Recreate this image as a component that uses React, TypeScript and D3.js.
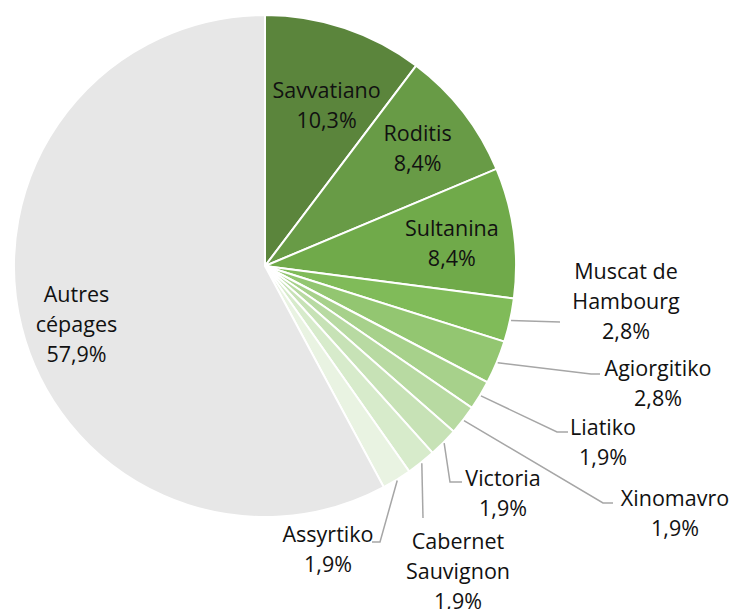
import React from "react"
import { arc, pie, PieArcDatum } from "d3"

const cepages = [
  "Savvatiano",
  "Roditis",
  "Sultanina",
  "Muscat de Hambourg",
  "Agiorgitiko",
  "Liatiko",
  "Xinomavro",
  "Victoria",
  "Cabernet Sauvignon",
  "Assyrtiko",
  "Autres cépages",
]
const parts = [10.3, 8.4, 8.4, 2.8, 2.8, 1.9, 1.9, 1.9, 1.9, 1.9, 57.9]
const labelLines = [
  ["Savvatiano"],
  ["Roditis"],
  ["Sultanina"],
  ["Muscat de", "Hambourg"],
  ["Agiorgitiko"],
  ["Liatiko"],
  ["Xinomavro"],
  ["Victoria"],
  ["Cabernet", "Sauvignon"],
  ["Assyrtiko"],
  ["Autres", "cépages"],
]

// styling
const colors = [
  "#5b853c",
  "#689b46",
  "#70aa4a",
  "#80bb59",
  "#93c671",
  "#a7d18b",
  "#b8daa2",
  "#c7e2b6",
  "#d7ebcb",
  "#e9f3e2",
  "#e7e7e7",
]

// inside labels: [share of radius, angle shift in degrees]
const inside: Record<number, [number, number]> = {
  0: [0.69, 2.3],
  1: [0.77, 0],
  2: [0.75, 0.6],
  10: [0.785, -2.8],
}

// outside labels: text centre + leader line bends (page coords)
const outside: Record<number, { tx: number; ty: number; pts: [number, number][] }> = {
  3: { tx: 626, ty: 270, pts: [[560, 322]] },
  4: { tx: 658, ty: 367, pts: [[591, 374], [600, 374]] },
  5: { tx: 603, ty: 426, pts: [[557, 432], [568, 432]] },
  6: { tx: 675, ty: 497, pts: [[603, 503], [613, 503]] },
  7: { tx: 503, ty: 477, pts: [[450, 482], [462, 482]] },
  8: { tx: 458, ty: 540, pts: [[423, 518]] },
  9: { tx: 328, ty: 533, pts: [[380, 542], [372, 542]] },
}

const width = 737
const height = 609
const cx = 265
const cy = 266
const radius = 251
const lineH = 30

const fmt = (v: number) => v.toFixed(1).replace(".", ",") + "%"

const App = () => {
  const arcs = pie<number>().sort(null).value((d) => d)(parts)
  const arcGen = arc<PieArcDatum<number>>().innerRadius(0).outerRadius(radius)

  return (
    <svg
      width={width}
      height={height}
      style={{ position: "absolute", left: 0, top: 0, background: "#fff" }}
      fontFamily="'Open Sans', sans-serif"
      fontSize={21.5}
    >
      <g transform={`translate(${cx},${cy})`}>
        {arcs.map((a, i) => (
          <path key={i} d={arcGen(a) ?? ""} fill={colors[i]} stroke="#fff" strokeWidth={2} />
        ))}
      </g>
      {arcs.map((a, i) => {
        const lines = [...labelLines[i], fmt(parts[i])]
        const mid = (a.startAngle + a.endAngle) / 2
        const o = outside[i]
        if (o) {
          const sx = cx + Math.sin(mid) * (radius + 1)
          const sy = cy - Math.cos(mid) * (radius + 1)
          const d = `M${sx},${sy}` + o.pts.map((p) => `L${p[0]},${p[1]}`).join("")
          return (
            <g key={i}>
              <path d={d} fill="none" stroke="#a6a6a6" strokeWidth={1.5} />
              <text textAnchor="middle" fill="#111">
                {lines.map((t, j) => (
                  <tspan key={j} x={o.tx} y={o.ty + j * lineH} dominantBaseline="central">
                    {t}
                  </tspan>
                ))}
              </text>
            </g>
          )
        }
        const [f, shift] = inside[i] ?? [0.75, 0]
        const ang = mid + (shift * Math.PI) / 180
        const lx = cx + Math.sin(ang) * radius * f
        const ly = cy - Math.cos(ang) * radius * f
        const y0 = ly - ((lines.length - 1) * lineH) / 2
        return (
          <text key={i} textAnchor="middle" fill="#111">
            {lines.map((t, j) => (
              <tspan key={j} x={lx} y={y0 + j * lineH} dominantBaseline="central">
                {t}
              </tspan>
            ))}
          </text>
        )
      })}
    </svg>
  )
}

export default App
